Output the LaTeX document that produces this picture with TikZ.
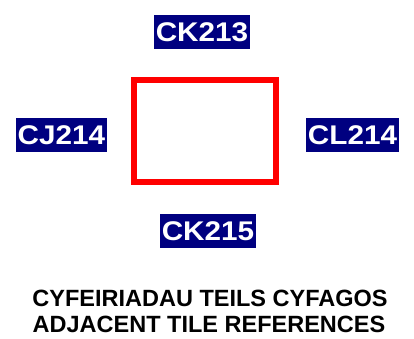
\documentclass[tikz,border=0pt]{standalone}
\usepackage{fontspec}
\setmainfont{Liberation Sans}
\definecolor{tilenavy}{RGB}{0,0,128}
\definecolor{tilered}{RGB}{255,0,0}
\tikzset{
  tileref/.style={fill=tilenavy, text=white, inner sep=0pt, minimum width=96pt, minimum height=34pt,
    font=\fontsize{27}{27}\selectfont\bfseries},
  caption/.style={anchor=base, inner sep=0pt, font=\fontsize{23.5}{23.5}\selectfont\bfseries},
  tilebox/.style={draw=tilered, line width=6pt}
}
\begin{document}
\begin{tikzpicture}[x=1pt,y=1pt]
\useasboundingbox (0,0) rectangle (414,338);
\draw[tilebox] (134,258) rectangle (276,156);
\node[tileref] (ck213) at (202,306) {\scalebox{1.1}[1]{CK213}};
\node[tileref, minimum width=91pt] (cj214) at (61.5,203) {\scalebox{1.1}[1]{CJ214}};
\node[tileref, minimum width=93pt] (cl214) at (352.5,203) {\scalebox{1.1}[1]{CL214}};
\node[tileref] (ck215) at (208,107) {\scalebox{1.1}[1]{CK215}};
\node[caption] (cy) at (210,32) {CYFEIRIADAU TEILS CYFAGOS};
\node[caption] (en) at (209,6) {ADJACENT TILE REFERENCES};
\end{tikzpicture}
\end{document}
